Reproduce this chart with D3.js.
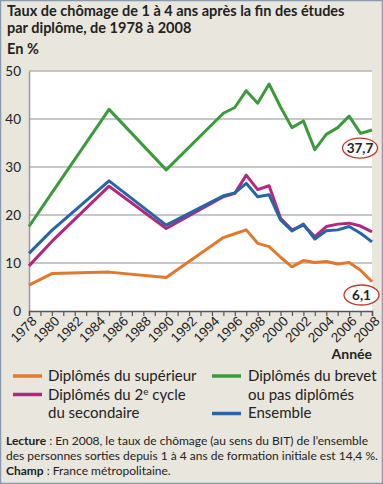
<!DOCTYPE html>
<html><head><meta charset="utf-8">
<script src="https://cdn.jsdelivr.net/npm/d3@7"></script>
<style>
html,body{margin:0;padding:0;background:#e9e6de;}
svg{display:block;font-family:Lato,"Open Sans",sans-serif;}
</style></head>
<body>
<svg id="c" width="383" height="484"></svg>
<script>
const years = [1978,1980,1985,1990,1995,1996,1997,1998,1999,2000,2001,2002,2003,2004,2005,2006,2007,2008];
const superieur = [5.4,7.8,8.1,7.0,15.3,16.1,16.9,14.1,13.4,11.2,9.2,10.5,10.1,10.3,9.8,10.1,8.5,6.1];
const secondaire = [9.4,14.5,26.0,17.2,23.8,24.5,28.3,25.3,26.1,19.3,16.9,17.9,15.5,17.6,18.1,18.3,17.7,16.5];
const ensemble = [12.0,16.8,27.1,17.9,24.0,24.6,26.6,23.8,24.2,19.0,16.7,18.1,15.0,16.7,16.9,17.6,16.2,14.4];
const brevet = [17.6,24.6,42.0,29.4,41.2,42.4,45.9,43.3,47.3,42.5,38.2,39.6,33.6,36.8,38.2,40.6,37.0,37.7];
const yTicks = [0,10,20,30,40,50];
const xTickLabels = [1978,1980,1982,1984,1986,1988,1990,1992,1994,1996,1998,2000,2002,2004,2006,2008];
const seriesNames = ["Diplômés du supérieur","Diplômés du 2e cycle du secondaire","Diplômés du brevet ou pas diplômés","Ensemble"];
const colors = {sup:"#e2782b", sec:"#b3287f", bre:"#3b9b3b", ens:"#2466a6"};

const svg = d3.select("#c");
const W=383,H=484;
svg.append("rect").attr("x",0.5).attr("y",0.5).attr("width",W-1).attr("height",H-1)
  .attr("fill","#e9e6de").attr("stroke","#8a9bb0").attr("stroke-width",1.5);

const x = d3.scaleLinear().domain([1978,2008]).range([29,372]);
const y = d3.scaleLinear().domain([0,50]).range([311,71]);

// title
const t = svg.append("g").attr("font-weight","bold").attr("fill","#222").attr("font-size",14.5);
t.append("text").attr("x",7).attr("y",16).text("Taux de chômage de 1 à 4 ans après la fin des études");
t.append("text").attr("x",7).attr("y",33).text("par diplôme, de 1978 à 2008");
t.append("text").attr("x",7).attr("y",54).text("En %");

// plot bg
svg.append("rect").attr("x",x(1978)).attr("y",y(50)).attr("width",x(2008)-x(1978)).attr("height",y(0)-y(50)).attr("fill","#fff");

// grid
svg.append("g").selectAll("line").data(yTicks.filter(d=>d>0)).join("line")
  .attr("x1",x(1978)).attr("x2",x(2008)).attr("y1",d=>y(d)).attr("y2",d=>y(d))
  .attr("stroke","#b5b5b5").attr("stroke-width",1.3);

// y axis
const ya = svg.append("g").attr("transform",`translate(${x(1978)},0)`)
  .call(d3.axisLeft(y).tickValues(yTicks).tickSize(0).tickPadding(8));
ya.select(".domain").attr("stroke","#999").attr("stroke-width",1.5);
ya.selectAll("text").attr("font-size",13.5).attr("fill","#222").attr("font-family","Lato,sans-serif");

// x axis
const allYears = d3.range(1978,2009);
const xa = svg.append("g").attr("transform",`translate(0,${y(0)})`)
  .call(d3.axisBottom(x).tickValues(allYears).tickSize(5).tickFormat(d=>xTickLabels.includes(d)?String(d):""));
xa.select(".domain").attr("stroke","#555").attr("stroke-width",1.5);
xa.selectAll(".tick line").attr("stroke","#555").attr("stroke-width",1.2);
xa.selectAll("text").attr("font-size",13.5).attr("fill","#222")
  .attr("text-anchor","end").attr("dy",0).attr("y",0)
  .attr("transform","translate(8,11) rotate(-45)");

svg.append("text").attr("x",372).attr("y",359).attr("text-anchor","end")
  .attr("font-weight","bold").attr("font-size",14).attr("fill","#222").text("Année");

// lines
const line = d3.line().x((d,i)=>x(years[i])).y(d=>y(d));
const drawn = [[superieur,colors.sup],[secondaire,colors.sec],[ensemble,colors.ens],[brevet,colors.bre]];
drawn.forEach(([vals,c])=>{
  svg.append("path").datum(vals).attr("d",line).attr("fill","none")
    .attr("stroke",c).attr("stroke-width",3).attr("stroke-linejoin","round");
});

// callouts
function callout(v, cx, cy){
  svg.append("ellipse").attr("cx",cx).attr("cy",cy).attr("rx",17.5).attr("ry",10)
    .attr("fill","#fff").attr("stroke","#c0392b").attr("stroke-width",1.3);
  svg.append("text").attr("x",cx).attr("y",cy+4.5).attr("text-anchor","middle")
    .attr("font-weight","bold").attr("font-size",13.5).attr("fill","#222").text(v);
}
callout(String(brevet[brevet.length-1]).replace(".",","), 360, y(brevet[17])+18);
callout(String(superieur[superieur.length-1]).replace(".",","), 361.5, 295);

// legend
const lg = svg.append("g").attr("font-size",15).attr("fill","#222");
function sw(x0,yy,c){ lg.append("line").attr("x1",x0).attr("x2",x0+29).attr("y1",yy).attr("y2",yy).attr("stroke",c).attr("stroke-width",3.5); }
sw(13,376,colors.sup); lg.append("text").attr("x",48).attr("y",381).text(seriesNames[0]);
sw(13,394.5,colors.sec);
const t2 = lg.append("text").attr("x",48).attr("y",400);
t2.append("tspan").text("Diplômés du 2");
t2.append("tspan").attr("dy",-5).attr("font-size",10).text("e");
t2.append("tspan").attr("dy",5).text(" cycle");
lg.append("text").attr("x",48).attr("y",418).text("du secondaire");
sw(212,376,colors.bre); lg.append("text").attr("x",248).attr("y",381).text("Diplômés du brevet");
lg.append("text").attr("x",248).attr("y",400).text("ou pas diplômés");
sw(212,413.5,colors.ens); lg.append("text").attr("x",248).attr("y",418).text(seriesNames[3]);

// footer
const f = svg.append("g").attr("font-size",12).attr("fill","#222");
const l1 = f.append("text").attr("x",6).attr("y",445);
l1.append("tspan").attr("font-weight","bold").text("Lecture");
l1.append("tspan").text(" : En 2008, le taux de chômage (au sens du BIT) de l’ensemble");
f.append("text").attr("x",6).attr("y",460).text("des personnes sorties depuis 1 à 4 ans de formation initiale est 14,4 %.");
const l3 = f.append("text").attr("x",6).attr("y",475);
l3.append("tspan").attr("font-weight","bold").text("Champ");
l3.append("tspan").text(" : France métropolitaine.");
</script>
</body></html>
